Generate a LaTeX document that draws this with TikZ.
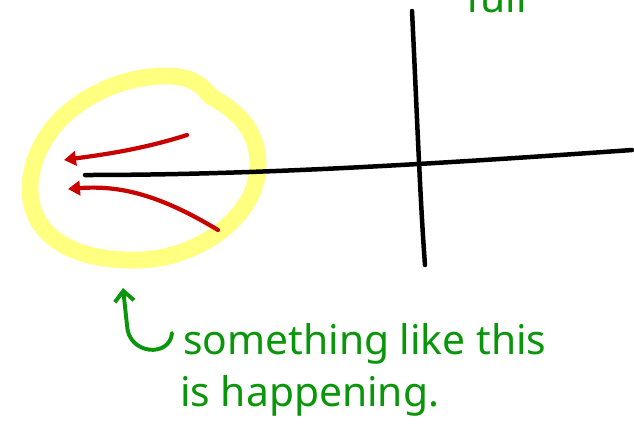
\documentclass[tikz,border=0pt]{standalone}
\usepackage{fontspec}
\setmainfont{Noto Sans}
\usetikzlibrary{arrows.meta, positioning}
\definecolor{penred}{HTML}{C80000}
\definecolor{pengreen}{HTML}{0A960A}
\definecolor{highlight}{HTML}{FFFF80}

\begin{document}
\begin{tikzpicture}[
    x=0.025cm, y=-0.025cm,
    axis/.style={line width=3.2pt, line cap=round, color=black},
    ring/.style={line width=12pt, color=highlight},
    flow/.style={-{Triangle[length=3mm, width=3.6mm]}, line width=3pt, line cap=round, color=penred},
    note/.style={font=\fontsize{29}{34}\selectfont, text=pengreen, inner sep=0pt, anchor=base west},
    pointer/.style={-{Straight Barb[length=2.6mm, width=4.8mm]}, line width=2.8pt, line cap=round, color=pengreen}
]
\useasboundingbox (0,0) rectangle (634,424);
\clip (0,0) rectangle (634,424);

% highlight round the tip
\draw[ring] (170,76) .. controls (110,74) and (35,115) .. (30,185)
    .. controls (28,240) and (80,262) .. (140,260)
    .. controls (200,258) and (258,215) .. (258,165)
    .. controls (258,128) and (235,110) .. (210,96)
    .. controls (200,82) and (188,77) .. (170,76);

% axes
\coordinate (hleft) at (85,175);
\coordinate (hright) at (632,150);
\coordinate (vtop) at (412,11);
\coordinate (vbot) at (425,265);
\draw[axis] (hleft) .. controls (250,175) and (420,165) .. (hright);
\draw[axis] (vtop) .. controls (416,90) and (420,200) .. (vbot);

% flow lines
\coordinate (up0) at (187,135);
\coordinate (up1) at (64,160);
\coordinate (lo0) at (218,230);
\coordinate (lo1) at (68,189);
\draw[flow] (up0) .. controls (140,150) and (100,155) .. (up1);
\draw[flow] (lo0) .. controls (160,195) and (120,185) .. (lo1);

% remark
\node[note] (line1) at (183,354) {something like this};
\node[note] (line2) at (180,406) {is happening.};
\node[note] (cut) at (466,12) {full};
\coordinate (hook) at (172,333);
\coordinate (tip) at (123,288);
\draw[pointer] (hook) .. controls (170,358) and (128,355) .. (127,325) -- (tip);
\end{tikzpicture}
\end{document}
